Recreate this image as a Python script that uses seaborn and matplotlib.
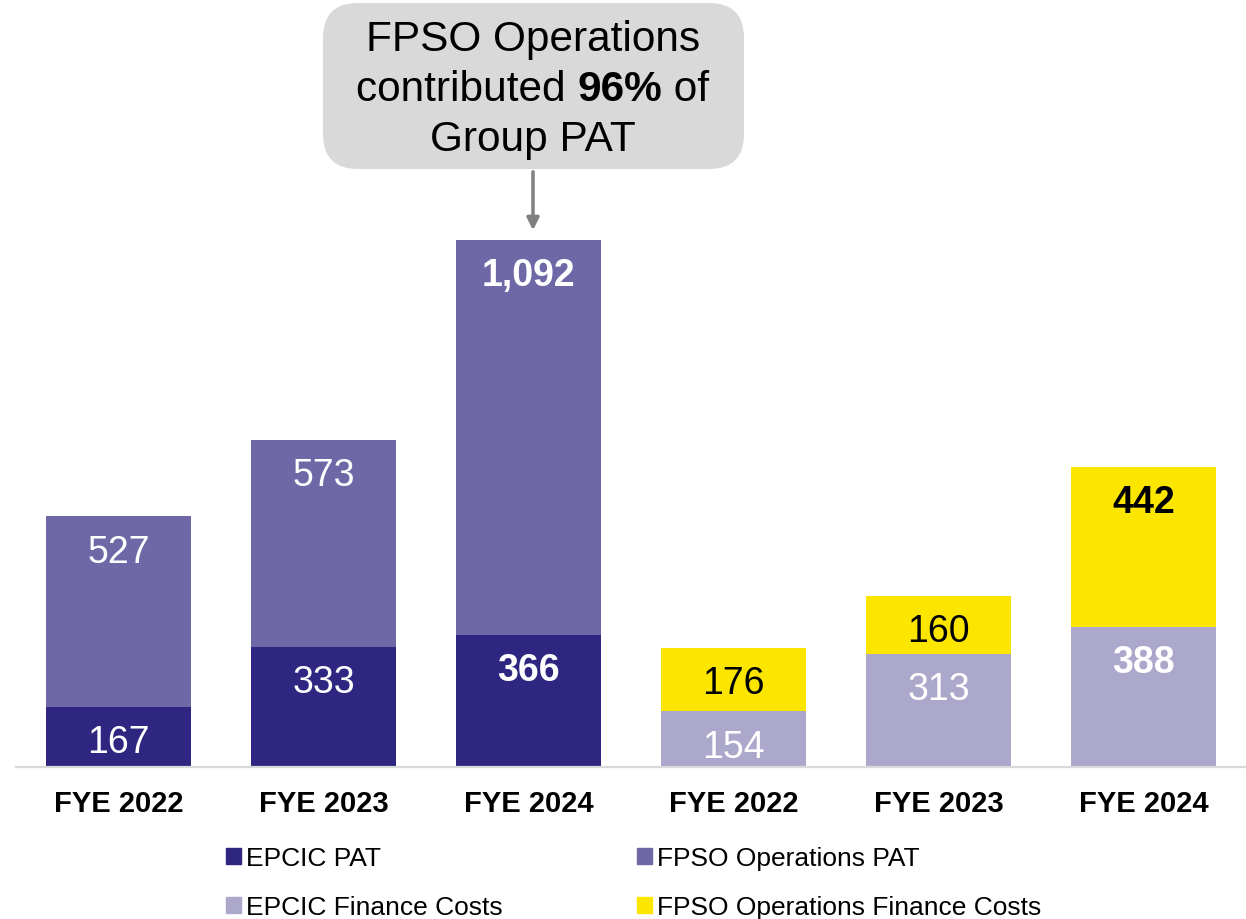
import matplotlib.pyplot as plt
import numpy as np
import pandas as pd
import seaborn as sns
from matplotlib.patches import FancyBboxPatch, Patch

# Date (RM milioane)
ani = ["FYE 2022", "FYE 2023", "FYE 2024"]
epcic_pat = [167, 333, 366]
fpso_pat = [527, 573, 1092]
epcic_fin = [154, 313, 388]
fpso_fin = [176, 160, 442]

culori = {
    "EPCIC PAT": "#2E2680",
    "FPSO Operations PAT": "#6E68A6",
    "EPCIC Finance Costs": "#ABA8CC",
    "FPSO Operations Finance Costs": "#FCE600",
}

sns.set_theme(style="white")
plt.rcParams["font.family"] = ["Liberation Sans", "DejaVu Sans"]
plt.rcParams["text.color"] = "black"

# Tabel cu cate un rand pentru fiecare bara
chei = [f"PAT {a}" for a in ani] + [f"FC {a}" for a in ani]
df = pd.DataFrame(
    {
        "cheie": chei,
        "jos": epcic_pat + epcic_fin,
        "sus": fpso_pat + fpso_fin,
    }
)
df["total"] = df["jos"] + df["sus"]
culori_jos = [culori["EPCIC PAT"]] * 3 + [culori["EPCIC Finance Costs"]] * 3
culori_sus = [culori["FPSO Operations PAT"]] * 3 + [culori["FPSO Operations Finance Costs"]] * 3

fig = plt.figure(figsize=(12.46, 9.2), dpi=100)
ax = fig.add_axes([16 / 1246, 152 / 920, 1230 / 1246, 768 / 920])

sns.barplot(data=df, x="cheie", y="total", hue="cheie", palette=culori_sus,
            width=0.71, legend=False, ax=ax, saturation=1, linewidth=0)
sns.barplot(data=df, x="cheie", y="jos", hue="cheie", palette=culori_jos,
            width=0.71, legend=False, ax=ax, saturation=1, linewidth=0)

ax.set_xlim(-0.5, 5.5)
ax.set_ylim(0, 2125)
ax.set_xticks(range(6))
ax.set_xticklabels(ani + ani, fontsize=21, fontweight="bold", color="black")
ax.tick_params(axis="x", length=0, pad=16)
ax.set_yticks([])
ax.set_xlabel("")
ax.set_ylabel("")
for s in ["top", "left", "right"]:
    ax.spines[s].set_visible(False)
ax.spines["bottom"].set_color("#D9D9D9")
ax.spines["bottom"].set_linewidth(1.6)

# Etichete valori, sub marginea de sus a fiecarui segment
bold_vals = {(2, "jos"), (2, "sus"), (5, "jos"), (5, "sus")}
for i, row in df.iterrows():
    for col, y in [("jos", row["jos"]), ("sus", row["total"])]:
        val = row[col]
        negru = col == "sus" and i >= 3
        ax.annotate(f"{val:,}", (i, y), xytext=(0, -25.5), textcoords="offset points",
                    ha="center", va="center", fontsize=27,
                    color="black" if negru else "white",
                    fontweight="bold" if (i, col) in bold_vals else "normal")

# Caseta cu mesaj
box = FancyBboxPatch((323 / 1246, 1 - 170 / 920), 421 / 1246, 166 / 920,
                     boxstyle="round,pad=0,rounding_size=0.028",
                     transform=fig.transFigure, facecolor="#D9D9D9",
                     edgecolor="none", mutation_aspect=1246 / 920)
fig.patches.append(box)
cx = 533 / 1246
fig.text(cx, 1 - 40 / 920, "FPSO Operations", ha="center", va="center", fontsize=30.5)
fig.text(cx, 1 - 140 / 920, "Group PAT", ha="center", va="center", fontsize=30.5)

# randul doi cu "96%" ingrosat
fig.canvas.draw()
r = fig.canvas.get_renderer()
parti = [("contributed ", "normal"), ("96%", "bold"), (" of", "normal")]
obiecte = [fig.text(0, 1 - 90 / 920, t, ha="left", va="center", fontsize=30.5, fontweight=w)
           for t, w in parti]
latimi = [o.get_window_extent(r).width for o in obiecte]
x0 = cx * 1246 - sum(latimi) / 2
for o, w in zip(obiecte, latimi):
    o.set_x(x0 / 1246)
    x0 += w

ax.annotate("", xy=(cx, 1 - 234 / 920), xytext=(cx, 1 - 170 / 920),
            xycoords="figure fraction", textcoords="figure fraction",
            arrowprops=dict(arrowstyle="-|>", color="#808080", lw=2.5, mutation_scale=18))

# Legenda in doua coloane separate
handles = [Patch(color=c, label=k) for k, c in culori.items()]
stil = dict(loc="upper left", frameon=False, fontsize=19, handlelength=0.55,
            handleheight=0.55, handletextpad=0.2, labelspacing=0.95,
            borderaxespad=0, borderpad=0)
fig.legend(handles=[handles[0], handles[2]], bbox_to_anchor=(226 / 1246, 1 - 847 / 920), **stil)
fig.legend(handles=[handles[1], handles[3]], bbox_to_anchor=(637 / 1246, 1 - 847 / 920), **stil)

fig.savefig("out.png", dpi=100)
